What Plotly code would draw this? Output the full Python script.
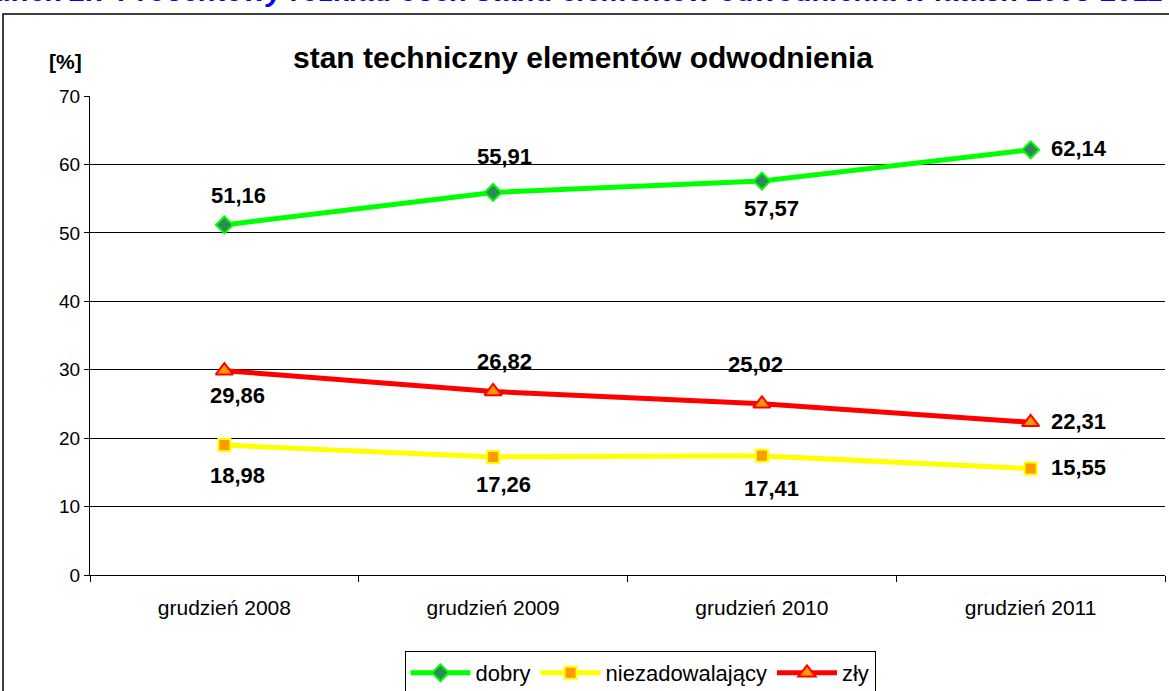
import plotly.graph_objects as go

# dane
CATEGORIES = ["grudzień 2008", "grudzień 2009", "grudzień 2010", "grudzień 2011"]
DOBRY = [51.16, 55.91, 57.57, 62.14]
NIEZADOWALAJACY = [18.98, 17.26, 17.41, 15.55]
ZLY = [29.86, 26.82, 25.02, 22.31]
Y_TICKS = [0, 10, 20, 30, 40, 50, 60, 70]

# przesunięcia etykiet (px): (xshift, yshift, xanchor)
LABEL_POS = {
    "dobry": [(14, 29, "center"), (11, 36, "center"), (10, -27, "center"), (18, 1, "left")],
    "niezadowalający": [(13, -30, "center"), (10, -28, "center"), (10, -33, "center"), (18, 1, "left")],
    "zły": [(13, -25, "center"), (11, 30, "center"), (-6, 39, "center"), (18, 1, "left")],
}

W, H = 1169, 691
L, R, T, B = 90, 4, 96, 116
PW, PH = W - L - R, H - T - B
FONT = "Liberation Sans, Arial"


def px(x):
    return (x - L) / PW


def py(y):
    return (H - B - y) / PH


SERIES = [
    ("dobry", DOBRY, "#00FF00", "diamond", "#2E8B57", "#00FF00", 13),
    ("niezadowalający", NIEZADOWALAJACY, "#FFFF00", "square", "#FF9900", "#FFFF00", 12),
    ("zły", ZLY, "#FF0000", "triangle-up", "#FF9900", "#FF0000", 15),
]

fig = go.Figure()
annotations = []
for name, vals, lc, sym, fill, edge, size in SERIES:
    fig.add_trace(go.Scatter(
        x=CATEGORIES, y=vals, mode="lines+markers", name=name,
        line=dict(color=lc, width=5),
        marker=dict(symbol=sym, size=size, color=fill, line=dict(color=edge, width=2)),
    ))
    for c, v, (dx, dy, xa) in zip(CATEGORIES, vals, LABEL_POS[name]):
        annotations.append(dict(
            x=c, y=v, xref="x", yref="y", showarrow=False,
            text="<b>" + f"{v:.2f}".replace(".", ",") + "</b>",
            xshift=dx, yshift=dy, xanchor=xa, yanchor="middle",
            font=dict(size=22, color="black", family=FONT),
        ))

annotations.append(dict(
    x=px(65), y=py(62), xref="paper", yref="paper", showarrow=False,
    text="<b>[%]</b>", xanchor="center", yanchor="middle",
    font=dict(size=21, color="black"),
))
# podpis rysunku - w oryginale ucięty u góry
annotations.append(dict(
    x=px(552), y=py(-9), xref="paper", yref="paper", showarrow=False,
    text="<b><i>Rysunek 2.7 Procentowy rozkład ocen stanu elementów odwodnienia w latach 2008-2011</i></b>",
    xanchor="center", yanchor="middle",
    font=dict(size=29, color="#0000FF"),
))

fig.update_layout(
    width=W, height=H,
    margin=dict(l=L, r=R, t=T, b=B, autoexpand=False),
    paper_bgcolor="white", plot_bgcolor="white",
    font=dict(family=FONT, color="black"),
    title=dict(
        text="<b>stan techniczny elementów odwodnienia</b>",
        x=583 / W, y=1 - 57 / H, xanchor="center", yanchor="middle",
        font=dict(size=30, color="black"),
    ),
    xaxis=dict(
        type="category", range=[-0.5, 3.5], tickson="boundaries",
        showline=True, linecolor="black", linewidth=1,
        ticks="outside", ticklen=6, tickcolor="black", automargin=False,
        ticklabelstandoff=14,
        showgrid=False, tickfont=dict(size=21), fixedrange=True,
    ),
    yaxis=dict(
        range=[0, 70], tickvals=Y_TICKS, automargin=False,
        showline=True, linecolor="black", linewidth=1,
        ticks="outside", ticklen=5, tickcolor="black",
        showgrid=True, gridcolor="black", gridwidth=1,
        zeroline=False, tickfont=dict(size=19), fixedrange=True,
    ),
    legend=dict(
        orientation="h", x=px(640), y=py(651), xanchor="center", yanchor="top",
        bordercolor="black", borderwidth=1, font=dict(size=22),
        itemwidth=60, tracegroupgap=0,
    ),
    annotations=annotations,
    shapes=[dict(
        type="rect", xref="paper", yref="paper",
        x0=px(3), x1=px(1180), y0=py(700), y1=py(14),
        line=dict(color="black", width=1.5), layer="below",
    )],
    showlegend=True,
)

# bez marginesu strony, by wykres zajmował całe okno
fig.write_html("out.html", config={"displayModeBar": False},
               post_script="document.body.style.margin='0';")
